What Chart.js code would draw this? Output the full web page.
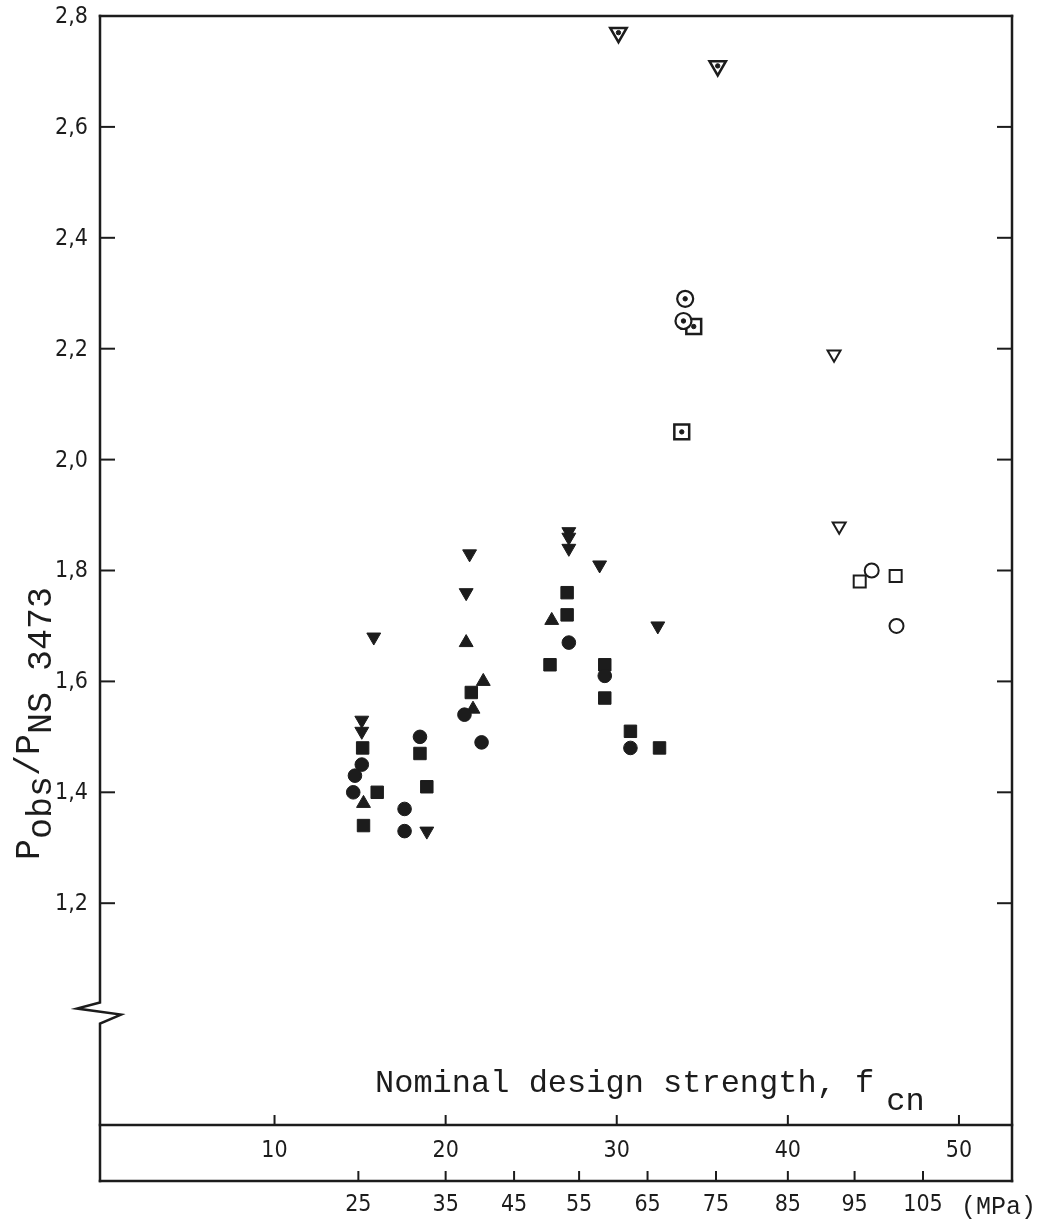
<!DOCTYPE html>
<html>
<head>
<meta charset="utf-8">
<script src="https://cdn.jsdelivr.net/npm/chart.js@4.4.1/dist/chart.umd.min.js"></script>
<style>
  html, body { margin: 0; padding: 0; background: #ffffff; }
  #wrap { width: 1044px; height: 1228px; position: relative; }
</style>
</head>
<body>
<div id="wrap"><canvas id="c" width="1044" height="1228"></canvas></div>
<script>
// ---------- DATA (x in units of the upper axis 0..50, y = Pobs/PNS3473) ----------
const filledCircleX = [21.1, 22.1, 15.1, 14.7, 14.6, 17.6, 17.6, 27.2, 30.8, 29.3, 18.5];
const filledCircleY = [1.54, 1.49, 1.45, 1.43, 1.40, 1.37, 1.33, 1.67, 1.48, 1.61, 1.50];

const filledSquareX = [21.5, 15.15, 16.0, 18.9, 15.2, 27.1, 27.1, 26.1, 29.3, 29.3, 30.8, 32.5, 18.5];
const filledSquareY = [1.58, 1.48, 1.40, 1.41, 1.34, 1.76, 1.72, 1.63, 1.63, 1.57, 1.51, 1.48, 1.47];

const filledTriUpX = [21.2, 22.2, 21.6, 15.2, 26.2];
const filledTriUpY = [1.67, 1.60, 1.55, 1.38, 1.71];

const filledTriDownX = [21.4, 21.2, 15.8, 15.1, 15.1, 18.9, 27.2, 27.2, 27.2, 29.0, 32.4];
const filledTriDownY = [1.83, 1.76, 1.68, 1.53, 1.51, 1.33, 1.87, 1.86, 1.84, 1.81, 1.70];

const dotCircleX = [34.0, 33.9];
const dotCircleY = [2.29, 2.25];

const dotSquareX = [34.5, 33.8];
const dotSquareY = [2.24, 2.05];

const dotTriDownX = [30.1, 35.9];
const dotTriDownY = [2.77, 2.71];

const openCircleX = [44.9, 46.35];
const openCircleY = [1.80, 1.70];

const openSquareX = [44.2, 46.3];
const openSquareY = [1.78, 1.79];

const openTriDownX = [42.7, 43.0];
const openTriDownY = [2.19, 1.88];

// ---------- AXES / TICKS ----------
const yTickValues = [1.2, 1.4, 1.6, 1.8, 2.0, 2.2, 2.4, 2.6, 2.8];
const yTickLabels = ['1,2', '1,4', '1,6', '1,8', '2,0', '2,2', '2,4', '2,6', '2,8'];
const upperTickValues = [10, 20, 30, 40, 50];
const upperTickLabels = ['10', '20', '30', '40', '50'];
const lowerTickLabels = ['25', '35', '45', '55', '65', '75', '85', '95', '105'];
const lowerTickPositions = [14.9, 20.0, 24.0, 27.8, 31.8, 35.8, 40.0, 43.9, 47.9];
const lowerUnit = '(MPa)';
const axisBreakValue = 1.01;
const xTitleMain = 'Nominal design strength, f';
const xTitleSub = 'cn';
const yTitleParts = [['P', false], ['obs', true], ['/', false], ['P', false], ['NS 3473', true]];

// ---------- STYLE ----------
const INK = '#1c1c1c';
const TICK_FONT = '23px "Liberation Sans Narrow", "DejaVu Sans Condensed", "Liberation Sans", sans-serif';
const MONO = '"Liberation Mono", "DejaVu Sans Mono", monospace';

function pts(xs, ys) { return xs.map((x, i) => ({ x: x, y: ys[i] })); }
function ds(xs, ys, style) {
  return Object.assign({ data: pts(xs, ys), clip: false, showLine: false,
    pointHoverRadius: style.pointRadius }, style);
}
const filled = { pointBackgroundColor: INK, pointBorderColor: INK, pointBorderWidth: 1 };
const open = { pointBackgroundColor: '#ffffff', pointBorderColor: INK };

const datasets = [
  ds(filledCircleX, filledCircleY, Object.assign({ pointStyle: 'circle', pointRadius: 6.8 }, filled)),
  ds(filledSquareX, filledSquareY, Object.assign({ pointStyle: 'rect', pointRadius: 8.8 }, filled)),
  ds(filledTriUpX, filledTriUpY, Object.assign({ pointStyle: 'triangle', pointRadius: 8 }, filled)),
  ds(filledTriDownX, filledTriDownY, Object.assign({ pointStyle: 'triangle', pointRotation: 180, pointRadius: 8 }, filled)),
  ds(openCircleX, openCircleY, Object.assign({ pointStyle: 'circle', pointRadius: 7, pointBorderWidth: 2 }, open)),
  ds(openSquareX, openSquareY, Object.assign({ pointStyle: 'rect', pointRadius: 8.5, pointBorderWidth: 2 }, open)),
  ds(openTriDownX, openTriDownY, Object.assign({ pointStyle: 'triangle', pointRotation: 180, pointRadius: 7.5, pointBorderWidth: 2 }, open)),
  ds(dotCircleX, dotCircleY, Object.assign({ pointStyle: 'circle', pointRadius: 8, pointBorderWidth: 2.2 }, open)),
  ds(dotSquareX, dotSquareY, Object.assign({ pointStyle: 'rect', pointRadius: 10.5, pointBorderWidth: 2.5 }, open)),
  ds(dotTriDownX, dotTriDownY, Object.assign({ pointStyle: 'triangle', pointRotation: 180, pointRadius: 9.5, pointBorderWidth: 2.5 }, open)),
  // centre dots of the dotted symbols (drawn on top)
  ds(dotCircleX.concat(dotSquareX, dotTriDownX), dotCircleY.concat(dotSquareY, dotTriDownY),
     Object.assign({ pointStyle: 'circle', pointRadius: 2.2, order: -1 }, filled))
];

const framePlugin = {
  id: 'frame',
  afterDatasetsDraw(chart) {
    const ctx = chart.ctx;
    const a = chart.chartArea;
    const xs = chart.scales.x, ys = chart.scales.y;
    const L = a.left, R = a.right, T = a.top, B = a.bottom;
    const B2 = B + 56;
    ctx.save();
    ctx.strokeStyle = INK;
    ctx.fillStyle = INK;
    ctx.lineWidth = 2.5;
    ctx.lineCap = 'square';
    function line(x1, y1, x2, y2) { ctx.beginPath(); ctx.moveTo(x1, y1); ctx.lineTo(x2, y2); ctx.stroke(); }

    // frame
    line(L, T, R, T);
    line(R, T, R, B2);
    line(L, B, R, B);
    line(L, B2, R, B2);
    // left axis with break
    const yb = ys.getPixelForValue(axisBreakValue);
    ctx.lineJoin = 'miter';
    ctx.beginPath();
    ctx.moveTo(L, T);
    ctx.lineTo(L, yb - 6);
    ctx.lineTo(L - 23, yb);
    ctx.lineTo(L + 21, yb + 6);
    ctx.lineTo(L, yb + 15);
    ctx.lineTo(L, B2);
    ctx.stroke();

    // y ticks + labels
    ctx.lineWidth = 2;
    ctx.font = TICK_FONT;
    ctx.textAlign = 'right';
    ctx.textBaseline = 'middle';
    yTickValues.forEach((v, i) => {
      const py = ys.getPixelForValue(v);
      if (i < yTickValues.length - 1) {
        line(L, py, L + 14, py);
        line(R, py, R - 14, py);
      }
      ctx.fillText(yTickLabels[i], L - 12, py + 1);
    });

    // upper x axis
    ctx.textAlign = 'center';
    upperTickValues.forEach((v, i) => {
      const px = xs.getPixelForValue(v);
      line(px, B, px, B - 9);
      ctx.fillText(upperTickLabels[i], px, B + 26);
    });
    // lower x axis
    lowerTickPositions.forEach((v, i) => {
      const px = xs.getPixelForValue(v);
      line(px, B2, px, B2 - 9);
      ctx.fillText(lowerTickLabels[i], px, B2 + 24);
    });
    const lastPx = xs.getPixelForValue(lowerTickPositions[lowerTickPositions.length - 1]);
    ctx.font = '25px ' + MONO;
    ctx.textAlign = 'left';
    ctx.fillText(lowerUnit, lastPx + 38, B2 + 26);

    // x title
    ctx.font = '32px ' + MONO;
    ctx.textBaseline = 'alphabetic';
    ctx.textAlign = 'left';
    const tx = L + 275, tyBase = B - 33;
    ctx.fillText(xTitleMain, tx, tyBase);
    const w = ctx.measureText(xTitleMain).width;
    ctx.fillText(xTitleSub, tx + w + 12, tyBase + 18);

    // y title (rotated)
    ctx.font = '35px ' + MONO;
    ctx.translate(39, 860);
    ctx.rotate(-Math.PI / 2);
    let cx = 0;
    yTitleParts.forEach(([t, sub]) => {
      ctx.fillText(t, cx, sub ? 12 : 0);
      cx += ctx.measureText(t).width;
    });
    ctx.restore();
  }
};

new Chart(document.getElementById('c'), {
  type: 'scatter',
  data: { datasets: datasets },
  options: {
    responsive: false,
    animation: false,
    devicePixelRatio: 1,
    layout: { padding: { left: 100, top: 16, right: 32, bottom: 103 } },
    plugins: { legend: { display: false }, tooltip: { enabled: false } },
    scales: {
      x: { type: 'linear', min: -0.2, max: 53.1, display: false },
      y: { type: 'linear', min: 0.8, max: 2.8, display: false }
    }
  },
  plugins: [framePlugin]
});
</script>
</body>
</html>
